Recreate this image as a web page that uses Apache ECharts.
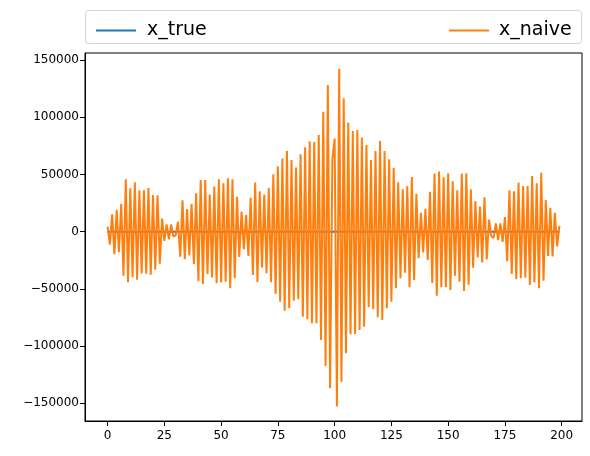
<!DOCTYPE html>
<html>
<head>
<meta charset="utf-8">
<script src="https://cdn.jsdelivr.net/npm/echarts@6/dist/echarts.min.js"></script>
<style>html,body{margin:0;padding:0;background:#fff}#c{width:590px;height:456px}</style>
</head>
<body>
<div id="c"></div>
<script>
const seriesNames = ['x_true', 'x_naive'];
const xTicks = [0, 25, 50, 75, 100, 125, 150, 175, 200];
const yTicks = [-150000, -100000, -50000, 0, 50000, 100000, 150000];
const xTrue = [
0,0,0,0,0,0,0,0,0,0, 0,0,0,0,0,0,0,0,0,0,
0,0,0,0,0,0,0,0,0,0, 0,0,0,0,0,0,0,0,0,0,
0,0,0,0,0,0,0,0,0,0, 0,0,0,0,0,0,0,0,0,0,
0,0,0,0,0,0,0,0,0,0, 0,0,0,0,0,0,0,0,0,0,
0,0,0,0,0,0,0,0,0,0, 0,0,0,0,0,0,0,0,0,0,
0,0,0,0,0,0,0,0,0,0, 0,0,0,0,0,0,0,0,0,0,
0,0,0,0,0,0,0,0,0,0, 0,0,0,0,0,0,0,0,0,0,
0,0,0,0,0,0,0,0,0,0, 0,0,0,0,0,0,0,0,0,0,
0,0,0,0,0,0,0,0,0,0, 0,0,0,0,0,0,0,0,0,0,
0,0,0,0,0,0,0,0,0,0, 0,0,0,0,0,0,0,0,0,0
];
const xNaive = [
4500,-11300,15200,-19700,19200,-17900,24400,-38500,45800,-44300,
38000,-39800,43200,-42000,36200,-36500,36200,-36700,38200,-37600,
32100,-33200,31800,-28000,11500,-8000,6400,-6600,6400,-4300,
-3000,8700,-21900,27400,-24000,19900,-20700,24500,-28500,33600,
-43400,45200,-45700,45200,-37000,32400,-40000,39400,-45000,45800,
-44500,42300,-43700,46700,-49500,45800,-40800,30600,-22200,17500,
-15400,14600,-21200,29600,-37900,43000,-44000,35400,-31200,32500,
-36400,38300,-44300,50200,-54600,57200,-61200,64000,-69200,70600,
-67000,62700,-60400,56100,-59100,67800,-74300,73800,-76600,79200,
-80100,78500,-80100,84600,-94700,105000,-117500,128300,-137000,63000,
81500,-152800,142600,-131200,116700,-106400,95400,-89600,88100,-89500,
88900,-86000,82300,-83100,75800,-66100,62700,-67900,70600,-74900,
79300,-77200,70600,-67000,63300,-61200,56000,-49500,43200,-40800,
37100,-35800,40000,-48600,47800,-42300,33000,-23300,16600,-18200,
20000,-25000,35000,-44900,50800,-56000,52600,-48600,47600,-48600,
51000,-51000,44000,-38500,36200,-43700,50900,-51900,51100,-46500,
37200,-31500,26800,-22600,21900,-27000,30100,-24300,10500,-4000,
-5500,7200,-7300,7300,-9000,12700,-25900,36200,-37000,35400,
-41600,42900,-40800,40000,-40200,40000,-46600,48700,-44300,42300,
-49500,51600,-42900,27700,-21200,21000,-21600,16600,-12800,5000
];

const chart = echarts.init(document.getElementById('c'), null, {renderer: 'canvas'});
const FONT = 'DejaVu Sans';
const fmtY = v => (v < 0 ? '\u2212' + Math.abs(v) : String(v));
const toPairs = arr => arr.map((v, i) => [i, v]);

chart.setOption({
  animation: false,
  backgroundColor: '#fff',
  textStyle: {fontFamily: FONT},
  graphic: [{
    type: 'rect', z: -1, silent: true,
    shape: {x: 85.5, y: 10.5, width: 496, height: 33, r: 3},
    style: {fill: '#fff', stroke: '#d4d4d4', lineWidth: 1}
  }],
  legend: [
    {data: [seriesNames[0]], left: 91, top: 16, icon: 'rect', itemWidth: 40, itemHeight: 2, itemGap: 0,
     textStyle: {fontFamily: FONT, fontSize: 19, color: '#000', padding: [0, 0, 0, 6]}},
    {data: [seriesNames[1]], left: 444, top: 16, icon: 'rect', itemWidth: 40, itemHeight: 2, itemGap: 0,
     textStyle: {fontFamily: FONT, fontSize: 19, color: '#000', padding: [0, 0, 0, 5]}}
  ],
  grid: {left: 85, right: 8, top: 53, bottom: 35, show: true, borderColor: '#000', borderWidth: 1, backgroundColor: 'transparent'},
  xAxis: {
    type: 'value', min: -9.95, max: 208.95,
    axisLine: {show: true, onZero: false, lineStyle: {color: '#000', width: 1}},
    axisTick: {show: true, inside: false, length: 5, lineStyle: {color: '#000'}, customValues: xTicks},
    axisLabel: {color: '#000', fontFamily: FONT, fontSize: 12, margin: 9, customValues: xTicks},
    splitLine: {show: false}
  },
  yAxis: {
    type: 'value', min: -165600, max: 156300,
    axisLine: {show: true, onZero: false, lineStyle: {color: '#000', width: 1}},
    axisTick: {show: true, inside: false, length: 5, lineStyle: {color: '#000'}, customValues: yTicks},
    axisLabel: {color: '#000', fontFamily: FONT, fontSize: 12, margin: 6, padding: [3, 0, 0, 0], customValues: yTicks, formatter: fmtY},
    splitLine: {show: false}
  },
  series: [
    {name: seriesNames[0], type: 'line', data: toPairs(xTrue), symbol: 'none', showSymbol: false,
     lineStyle: {color: '#1f77b4', width: 2}, itemStyle: {color: '#1f77b4'}},
    {name: seriesNames[1], type: 'line', data: toPairs(xNaive), symbol: 'none', showSymbol: false,
     lineStyle: {color: '#ff7f0e', width: 2}, itemStyle: {color: '#ff7f0e'}}
  ]
});
</script>
</body>
</html>
